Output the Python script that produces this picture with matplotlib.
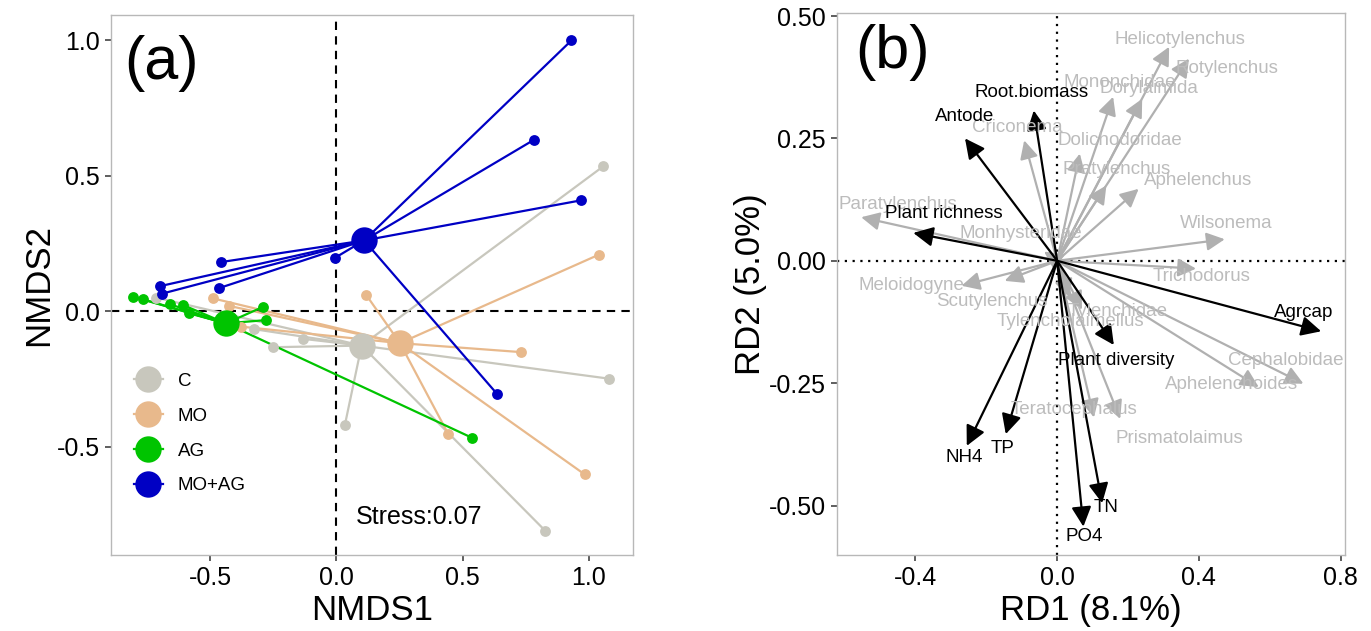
import matplotlib
matplotlib.use("Agg")
import matplotlib.pyplot as plt
from matplotlib.lines import Line2D

plt.rcParams["font.family"] = ["Liberation Sans", "DejaVu Sans"]
plt.rcParams["axes.unicode_minus"] = False

# ---- panel (a): NMDS points, grouped by treatment ----
groups = ["C", "MO", "AG", "MO+AG"]
colors = ["#C8C7BD", "#E8B98C", "#00C400", "#0000C4"]

c_x = [1.058, 1.079, 0.827, 0.034, -0.252, -0.133, -0.328, -0.714]
c_y = [0.536, -0.248, -0.809, -0.418, -0.132, -0.101, -0.065, 0.051]
mo_x = [1.041, 0.119, 0.730, 0.983, 0.443, -0.488, -0.427, -0.378]
mo_y = [0.210, 0.060, -0.150, -0.601, -0.452, 0.048, 0.021, -0.056]
ag_x = [0.539, -0.805, -0.767, -0.660, -0.608, -0.583, -0.290, -0.279]
ag_y = [-0.467, 0.054, 0.045, 0.027, 0.024, -0.007, 0.017, -0.032]
moag_x = [0.931, 0.782, 0.969, 0.638, -0.007, -0.458, -0.700, -0.689, -0.465]
moag_y = [1.000, 0.633, 0.410, -0.306, 0.197, 0.182, 0.093, 0.066, 0.086]

cent_x = [0.100, 0.252, -0.437, 0.110]
cent_y = [-0.126, -0.117, -0.044, 0.262]
stress = 0.07

# ---- panel (b): RDA biplot ----
env_names = ["Root.biomass", "Antode", "Plant richness", "Agrcap",
             "Plant diversity", "NH4", "TP", "PO4", "TN"]
env_x = [-0.066, -0.260, -0.406, 0.745, 0.160, -0.255, -0.145, 0.074, 0.127]
env_y = [0.307, 0.250, 0.057, -0.144, -0.172, -0.378, -0.354, -0.543, -0.495]
env_lab_x = [-0.073, -0.262, -0.321, 0.695, 0.168, -0.262, -0.154, 0.077, 0.137]
env_lab_y = [0.343, 0.294, 0.097, -0.105, -0.203, -0.402, -0.384, -0.564, -0.503]

sp_names = ["Helicotylenchus", "Rotylenchus", "Mononchidae", "Dorylaimida",
            "Criconema", "Dolichodoridae", "Pratylenchus", "Aphelenchus",
            "Paratylenchus", "Monhysteridae", "Wilsonema", "Trichodorus",
            "Meloidogyne", "Scutylenchus", "Tylenchidae", "Tylencholaimellus",
            "Cephalobidae", "Aphelenchoides", "Teratocephalus", "Prismatolaimus"]
sp_x = [0.316, 0.372, 0.158, 0.240, -0.093, 0.064, 0.139, 0.230, -0.553, -0.037,
        0.473, 0.392, -0.270, -0.148, 0.035, 0.070, 0.695, 0.569, 0.104, 0.178]
sp_y = [0.437, 0.413, 0.335, 0.331, 0.246, 0.219, 0.154, 0.147, 0.089, 0.019,
        0.044, -0.016, -0.051, -0.041, -0.075, -0.100, -0.251, -0.258, -0.320, -0.323]
sp_lab_x = [0.346, 0.478, 0.177, 0.260, -0.113, 0.178, 0.168, 0.397, -0.450, -0.103,
            0.478, 0.407, -0.411, -0.184, 0.170, 0.038, 0.644, 0.493, 0.048, 0.346]
sp_lab_y = [0.452, 0.393, 0.365, 0.352, 0.273, 0.246, 0.186, 0.165, 0.116, 0.056,
            0.077, -0.033, -0.051, -0.084, -0.103, -0.124, -0.203, -0.253, -0.304, -0.363]

FRAME = "#B8B8B8"
SP_ARROW = "#B0B0B0"
SP_TEXT = "#BCBCBC"


def style_axes(ax):
    for s in ax.spines.values():
        s.set_color(FRAME)
        s.set_linewidth(1.0)
    ax.tick_params(direction="out", length=4, width=1.1, color="#333333",
                   labelsize=18, pad=4)


fig = plt.figure(figsize=(13.71, 6.31), dpi=100)

# ---------------- (a) ----------------
ax1 = fig.add_axes([0.0807, 0.1204, 0.3810, 0.8558])
pts = [(c_x, c_y), (mo_x, mo_y), (ag_x, ag_y), (moag_x, moag_y)]
ax1.axhline(0, color="black", ls=(0, (4, 3)), lw=1.5, zorder=1)
ax1.axvline(0, color="black", ls=(0, (4, 3)), lw=1.5, zorder=1)
for (xs, ys), cx, cy, col in zip(pts, cent_x, cent_y, colors):
    for x, y in zip(xs, ys):
        ax1.plot([cx, x], [cy, y], color=col, lw=1.6, zorder=2)
for (xs, ys), cx, cy, col in zip(pts, cent_x, cent_y, colors):
    ax1.plot(xs, ys, "o", color=col, ms=7.8, mec="none", zorder=3)
    ax1.plot([cx], [cy], "o", color=col, ms=19, mec="none", zorder=4)

ax1.set_xlim(-0.894, 1.175)
ax1.set_ylim(-0.899, 1.094)
ax1.set_xticks([-0.5, 0.0, 0.5, 1.0])
ax1.set_yticks([-0.5, 0.0, 0.5, 1.0])
ax1.set_xlabel("NMDS1", fontsize=25, labelpad=3)
ax1.set_ylabel("NMDS2", fontsize=25, labelpad=1)
style_axes(ax1)
ax1.text(0.027, 0.911, "(a)", transform=ax1.transAxes, fontsize=44,
         ha="left", va="center")
ax1.text(0.079, -0.76, f"Stress:{stress:.2f}", fontsize=18, ha="left", va="center")

handles = [Line2D([0], [0], color=c, lw=1.6, marker="o", ms=19, mec="none")
           for c in colors]
ax1.legend(handles, groups, loc="upper left", bbox_to_anchor=(0.044, 0.338),
           frameon=False, fontsize=13.5, handlelength=1.55, handletextpad=0.8,
           labelspacing=0.95, borderpad=0, borderaxespad=0)

# ---------------- (b) ----------------
ax2 = fig.add_axes([0.6103, 0.1204, 0.3704, 0.8585])
ax2.axhline(0, color="black", ls=(0, (1, 2.5)), lw=1.6, zorder=1)
ax2.axvline(0, color="black", ls=(0, (1, 2.5)), lw=1.6, zorder=1)

for x, y in zip(sp_x, sp_y):
    ax2.annotate("", xy=(x, y), xytext=(0, 0),
                 arrowprops=dict(arrowstyle="-|>,head_length=11,head_width=5.5",
                                 mutation_scale=1, color=SP_ARROW, lw=1.6,
                                 shrinkA=0, shrinkB=0), zorder=2)
for x, y in zip(env_x, env_y):
    ax2.annotate("", xy=(x, y), xytext=(0, 0),
                 arrowprops=dict(arrowstyle="-|>,head_length=12,head_width=6",
                                 mutation_scale=1, color="black", lw=1.6,
                                 shrinkA=0, shrinkB=0), zorder=3)
for name, x, y in zip(sp_names, sp_lab_x, sp_lab_y):
    ax2.text(x, y, name, color=SP_TEXT, fontsize=13.5, ha="center", va="center",
             zorder=4)
for name, x, y in zip(env_names, env_lab_x, env_lab_y):
    ax2.text(x, y, name, color="black", fontsize=13.5, ha="center", va="center",
             zorder=5)

ax2.set_xlim(-0.622, 0.811)
ax2.set_ylim(-0.601, 0.5055)
ax2.set_xticks([-0.4, 0.0, 0.4, 0.8])
ax2.set_yticks([-0.5, -0.25, 0.0, 0.25, 0.5])
ax2.set_yticklabels(["-0.50", "-0.25", "0.00", "0.25", "0.50"])
ax2.set_xticklabels(["-0.4", "0.0", "0.4", "0.8"])
ax2.set_xlabel("RD1 (8.1%)", fontsize=25, labelpad=3)
ax2.set_ylabel("RD2 (5.0%)", fontsize=25, labelpad=1)
style_axes(ax2)
ax2.text(0.037, 0.927, "(b)", transform=ax2.transAxes, fontsize=44,
         ha="left", va="center")

fig.savefig("out.png", dpi=100)
